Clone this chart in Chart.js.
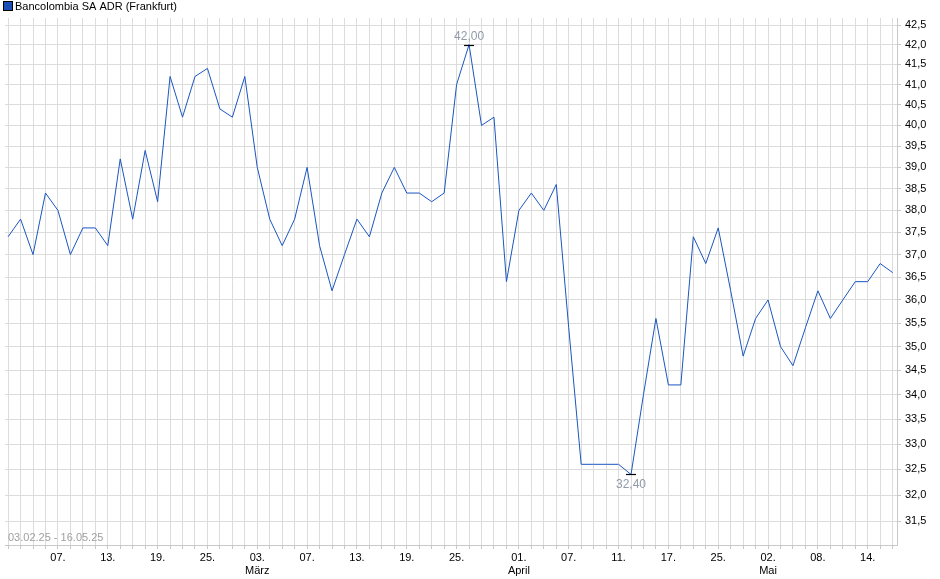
<!DOCTYPE html>
<html><head><meta charset="utf-8">
<script src="https://cdn.jsdelivr.net/npm/chart.js@4/dist/chart.umd.min.js"></script>
<style>html,body{margin:0;padding:0;background:#fff}#w{width:940px;height:579px;position:relative}</style>
</head><body><div id="w"><canvas id="c"></canvas></div>
<script>
const dates = ["03.02","04.02","05.02","06.02","07.02","10.02","11.02","12.02","13.02","14.02","17.02","18.02","19.02","20.02","21.02","24.02","25.02","26.02","27.02","28.02",
"03.03","04.03","05.03","06.03","07.03","10.03","11.03","12.03","13.03","14.03","17.03","18.03","19.03","20.03","21.03","24.03","25.03","26.03","27.03","28.03","31.03",
"01.04","02.04","03.04","04.04","07.04","08.04","09.04","10.04","11.04","14.04","15.04","16.04","17.04","22.04","23.04","24.04","25.04","28.04","29.04","30.04",
"02.05","05.05","06.05","07.05","08.05","09.05","12.05","13.05","14.05","15.05","16.05"];
const prices = [37.4,37.8,37.0,38.4,38.0,37.0,37.6,37.6,37.2,39.2,37.8,39.4,38.2,41.2,40.2,41.2,41.4,40.4,40.2,41.2,
39.0,37.8,37.2,37.8,39.0,37.2,36.2,37.0,37.8,37.4,38.4,39.0,38.4,38.4,38.2,38.4,41.0,42.0,40.0,40.2,36.4,
38.0,38.4,38.0,38.6,35.4,32.6,32.6,32.6,32.6,32.4,34.0,35.6,34.2,34.2,37.4,36.8,37.6,36.2,34.8,35.6,
36.0,35.0,34.6,35.4,36.2,35.6,36.0,36.4,36.4,36.8,36.6];
const tickIdx = [4,8,12,16,20,24,28,32,36,41,45,49,53,57,61,65,69];
const tickText = [["07."],["13."],["19."],["25."],["03.","März"],["07."],["13."],["19."],["25."],["01.","April"],["07."],["11."],["17."],["25."],["02.","Mai"],["08."],["14."]];
const yTicks = [31.5,32,32.5,33,33.5,34,34.5,35,35.5,36,36.5,37,37.5,38,38.5,39,39.5,40,40.5,41,41.5,42,42.5];
const title = "Bancolombia SA ADR (Frankfurt)";
const rangeText = "03.02.25 - 16.05.25";
const FONT = "'Liberation Sans Narrow','Liberation Sans',Arial,sans-serif";
const fmt = v => v.toFixed(2).replace('.', ',');

const extras = {
  id: 'extras',
  afterDraw(ch) {
    const c = ch.ctx, x = ch.scales.x, y = ch.scales.y, a = ch.chartArea;
    c.save();
    // legend
    c.fillStyle = '#1a4fb5'; c.fillRect(4, 2, 8, 8);
    c.strokeStyle = '#000'; c.lineWidth = 1; c.strokeRect(3.5, 1.5, 9, 9);
    c.fillStyle = '#000'; c.font = "11px 'Liberation Sans',Arial,sans-serif"; c.textBaseline = 'middle'; c.textAlign = 'left';
    c.fillText(title, 15, 6.5);
    // range text
    c.fillStyle = '#a0a0a0'; c.font = "11px " + FONT; c.textBaseline = 'bottom';
    c.fillText(rangeText, a.left + 3, a.bottom - 2);
    // max/min markers
    let iMax = 0, iMin = 0;
    prices.forEach((p, i) => { if (p > prices[iMax]) iMax = i; if (p < prices[iMin]) iMin = i; });
    c.strokeStyle = '#000'; c.lineWidth = 1.2; c.textAlign = 'center';
    const mx = x.getPixelForValue(iMax), my = y.getPixelForValue(prices[iMax]);
    c.beginPath(); c.moveTo(mx - 5, Math.round(my) + 0.5); c.lineTo(mx + 5, Math.round(my) + 0.5); c.stroke();
    c.fillStyle = '#909aa8'; c.font = "12px 'Liberation Sans',Arial,sans-serif"; c.textBaseline = 'bottom';
    c.fillText(fmt(prices[iMax]), mx, my - 2);
    const nx = x.getPixelForValue(iMin), ny = y.getPixelForValue(prices[iMin]);
    c.beginPath(); c.moveTo(nx - 5, Math.round(ny) + 0.5); c.lineTo(nx + 5, Math.round(ny) + 0.5); c.stroke();
    c.textBaseline = 'top'; c.fillText(fmt(prices[iMin]), nx, ny + 4);
    c.restore();
  }
};

new Chart(document.getElementById('c'), {
  type: 'line',
  data: { datasets: [{ data: prices.map((p, i) => ({ x: i, y: p })), borderColor: '#1a56c0', borderWidth: 1, pointRadius: 0, tension: 0, fill: false }] },
  options: {
    responsive: true, maintainAspectRatio: false, animation: false,
    layout: { padding: { top: 18, left: 5, right: 0, bottom: 0 } },
    plugins: { legend: { display: false }, tooltip: { enabled: false } },
    scales: {
      x: {
        type: 'linear', min: -0.25, max: 71.35,
        afterBuildTicks: s => { s.ticks = dates.map((d, i) => ({ value: i })); },
        afterFit: s => { s.height = 34; },
        ticks: { autoSkip: false, maxRotation: 0, padding: 2, color: '#000', font: { family: FONT, size: 11 },
          callback: v => { const k = tickIdx.indexOf(v); return k >= 0 ? tickText[k] : ''; } },
        grid: { color: '#dcdcdc', tickLength: 4, tickColor: '#c8c8c8' },
        border: { color: '#c8c8c8' }
      },
      y: {
        type: 'logarithmic', position: 'right', min: 31.05, max: 42.68,
        afterBuildTicks: s => { s.ticks = yTicks.map(v => ({ value: v })); },
        afterFit: s => { s.width = 43; },
        ticks: { padding: 4, color: '#000', font: { family: FONT, size: 11 }, callback: v => v.toFixed(1).replace('.', ',') },
        grid: { color: '#dcdcdc', tickLength: 4, tickColor: '#c8c8c8' },
        border: { color: '#c8c8c8' }
      }
    }
  },
  plugins: [extras]
});
</script></body></html>
